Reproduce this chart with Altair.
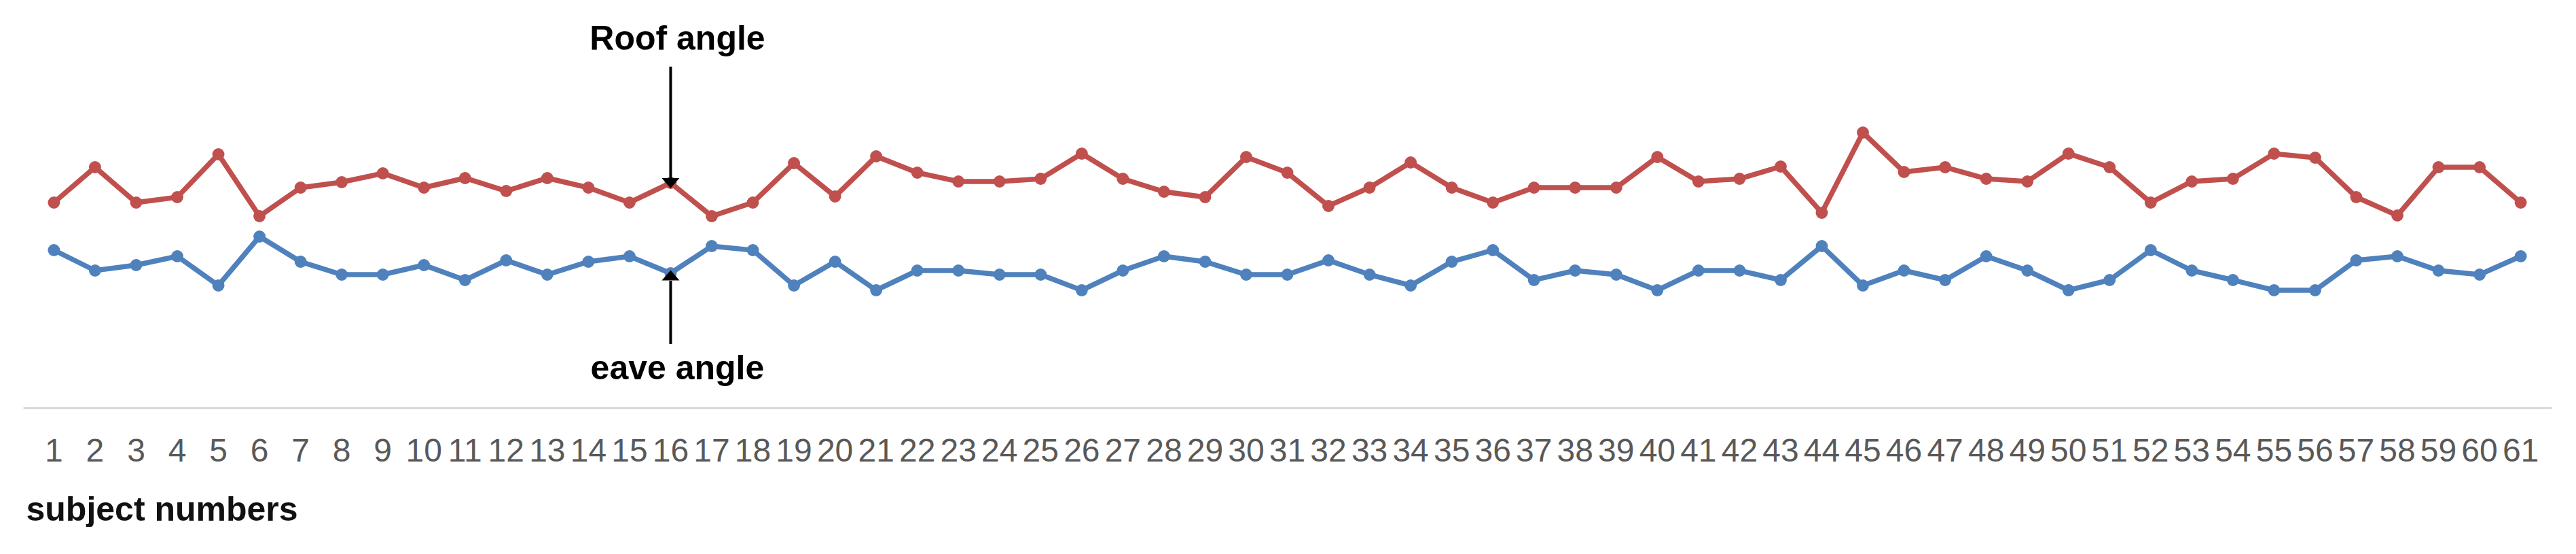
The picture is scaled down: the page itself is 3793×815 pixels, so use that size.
import altair as alt
import pandas as pd

subjects = list(range(1, 62))

roof = [30.2, 35.4, 30.2, 31.0, 37.3, 28.2, 32.4, 33.2, 34.5, 32.4,
        33.8, 31.9, 33.8, 32.4, 30.2, 33.1, 28.2, 30.2, 36.0, 31.1,
        37.0, 34.6, 33.3, 33.3, 33.7, 37.4, 33.7, 31.8, 31.0, 36.9,
        34.6, 29.7, 32.4, 36.1, 32.4, 30.2, 32.4, 32.4, 32.4, 36.9,
        33.3, 33.7, 35.5, 28.7, 40.5, 34.7, 35.4, 33.7, 33.3, 37.4,
        35.4, 30.2, 33.3, 33.7, 37.4, 36.8, 31.0, 28.3, 35.4, 35.4,
        30.2]

eave = [23.2, 20.2, 21.0, 22.3, 18.0, 25.2, 21.5, 19.6, 19.6, 21.0,
        18.8, 21.7, 19.6, 21.5, 22.3, 19.8, 23.8, 23.2, 18.0, 21.5,
        17.3, 20.2, 20.2, 19.6, 19.6, 17.3, 20.2, 22.3, 21.5, 19.6,
        19.6, 21.7, 19.6, 18.0, 21.5, 23.2, 18.8, 20.2, 19.6, 17.3,
        20.2, 20.2, 18.8, 23.8, 18.0, 20.2, 18.8, 22.3, 20.2, 17.3,
        18.8, 23.2, 20.2, 18.8, 17.3, 17.3, 21.7, 22.3, 20.2, 19.6,
        22.3]

series_names = ["Roof angle", "eave angle"]
series_colors = ["#C0504D", "#4F81BD"]

# annotations (in data units)
ann_labels = ["Roof angle", "eave angle"]
ann_subject = [16, 16]
ann_text_y = [52.7, 4.2]
arrow_from = [50.2, 9.4]
arrow_to = [33.8, 18.7]
head_y = [33.05, 19.5]
head_shape = ["M-1,-0.58L1,-0.58L0,0.58Z", "M-1,0.58L1,0.58L0,-0.58Z"]

rows = []
for s, r, e in zip(subjects, roof, eave):
    rows.append({"subject": s, "series": series_names[0], "value": r})
    rows.append({"subject": s, "series": series_names[1], "value": e})
df = pd.DataFrame(rows)

ann = pd.DataFrame({
    "subject": ann_subject,
    "label": ann_labels,
    "ty": ann_text_y,
    "y1": arrow_from,
    "y2": arrow_to,
    "hy": head_y,
    "shape": head_shape,
})

x_enc = alt.X(
    "subject:O",
    scale=alt.Scale(padding=0.5),
    axis=alt.Axis(
        title="subject numbers",
        labelAngle=0,
        labelFont="Liberation Sans Narrow, Liberation Sans, Arial",
        labelFontSize=48,
        labelColor="#595959",
        labelPadding=40,
        labelOverlap=False,
        ticks=False,
        tickSize=0,
        grid=False,
        domainColor="#D9D9D9",
        domainWidth=3,
        titleFont="Liberation Sans",
        titleFontSize=50,
        titleFontWeight="bold",
        titleColor="#111111",
        titleAnchor="start",
        titleAlign="left",
        titleBaseline="alphabetic",
        titleX=4,
        titleY=165,
    ),
)
y_scale = alt.Scale(domain=[0, 59.2], nice=False, zero=False)

color = alt.Color("series:N", scale=alt.Scale(domain=series_names, range=series_colors), legend=None)

lines = alt.Chart(df).mark_line(strokeWidth=7.5).encode(
    x=x_enc,
    y=alt.Y("value:Q", scale=y_scale, axis=None),
    color=color,
)
points = alt.Chart(df).mark_point(filled=True, size=320, opacity=1).encode(
    x=x_enc,
    y=alt.Y("value:Q", scale=y_scale, axis=None),
    color=color,
)

rules = alt.Chart(ann).mark_rule(strokeWidth=4, color="black").encode(
    x=alt.X("subject:O"),
    y=alt.Y("y1:Q", scale=y_scale),
    y2="y2:Q",
)
heads = alt.Chart(ann).mark_point(filled=True, size=676, opacity=1, color="black").encode(
    x=alt.X("subject:O"),
    y=alt.Y("hy:Q", scale=y_scale),
    shape=alt.Shape("shape:N", scale=None, legend=None),
)
texts = alt.Chart(ann).mark_text(
    font="Liberation Sans", fontSize=50, fontWeight="bold", color="black",
    align="center", baseline="alphabetic", dx=10,
).encode(
    x=alt.X("subject:O"),
    y=alt.Y("ty:Q", scale=y_scale),
    text="label:N",
)

chart = alt.layer(lines, points, rules, heads, texts).properties(
    width=3723,
    height=592,
    background="white",
    padding={"left": 26, "top": 0, "right": 10, "bottom": 0},
).configure_view(strokeWidth=0, stroke="transparent")

chart.save("out.html", embed_options={"renderer": "svg", "actions": False})
